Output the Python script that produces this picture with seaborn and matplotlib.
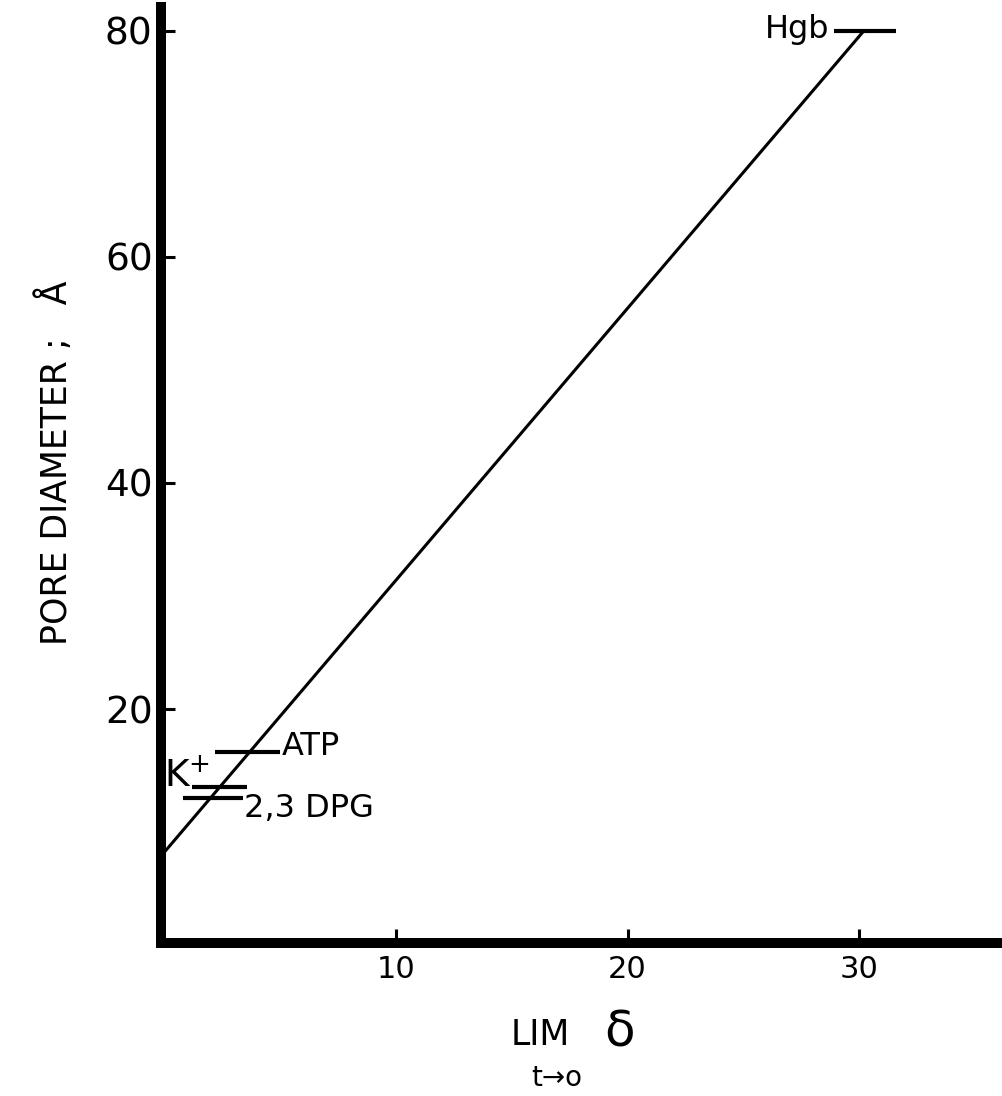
import matplotlib
matplotlib.use('Agg')
import matplotlib.pyplot as plt
import seaborn as sns
import pandas as pd

# fitted line: lim sigma (t->0) vs pore diameter
fit_sigma = [0.0, 30.2]
fit_diam = [7.3, 80.0]

# solutes: pore diameter and the range of lim sigma
solutes = ['Hgb', 'ATP', 'K$^{+}$', '2,3 DPG']
solute_diam = [80.0, 16.2, 13.1, 12.1]
sigma_lo = [28.9, 2.2, 1.2, 0.8]
sigma_hi = [31.6, 5.0, 3.6, 3.4]

x_ticks = [10, 20, 30]
y_ticks = [20, 40, 60, 80]


def main():
    sns.set_style('white')
    plt.rcParams['font.family'] = ['DejaVu Sans']
    plt.rcParams['text.color'] = 'black'
    plt.rcParams['xtick.color'] = 'black'
    plt.rcParams['ytick.color'] = 'black'

    fig = plt.figure(figsize=(10.03, 10.96), dpi=100)
    ax = fig.add_axes([0.1605, 0.1396, 0.8395, 0.854])

    fit = pd.DataFrame({'sigma': fit_sigma, 'diam': fit_diam})
    sns.lineplot(data=fit, x='sigma', y='diam', ax=ax, color='black', lw=2.2)

    df = pd.DataFrame({'name': solutes, 'diam': solute_diam,
                       'lo': sigma_lo, 'hi': sigma_hi})
    ax.hlines(df['diam'], df['lo'], df['hi'], color='black', lw=3)

    # label placement: (anchor, ha, va, dx pt, dy pt, size)
    place = {
        'Hgb': ('lo', 'right', 'center', -3, 1, 23),
        'ATP': ('hi', 'left', 'center', 1, 4, 23),
        'K$^{+}$': ('lo', 'right', 'baseline', 13, 0, 27),
        '2,3 DPG': ('hi', 'left', 'top', 1, 4, 23),
    }
    for _, row in df.iterrows():
        anchor, ha, va, dx, dy, size = place[row['name']]
        ax.annotate(row['name'], xy=(row[anchor], row['diam']),
                    xytext=(dx, dy), textcoords='offset points',
                    ha=ha, va=va, fontsize=size)

    ax.set_xlim(-0.13, 36.2)
    ax.set_ylim(-0.7, 82.1)
    ax.set_xticks(x_ticks)
    ax.set_yticks(y_ticks)
    ax.tick_params(axis='y', left=True, direction='in', length=10, width=2.2,
                   labelsize=27, pad=6)
    ax.tick_params(axis='x', bottom=True, direction='in', length=10, width=2.2,
                   labelsize=22, pad=9)
    ax.set_xlabel('')
    ax.set_ylabel('')

    for side in ('top', 'right'):
        ax.spines[side].set_visible(False)
    for side in ('left', 'bottom'):
        ax.spines[side].set_linewidth(7.2)
        ax.spines[side].set_color('black')

    fig.text(0.055, 0.578, 'PORE DIAMETER ;   \u00c5', rotation=90,
             ha='center', va='center', fontsize=25)
    fig.text(0.539, 0.0557, 'LIM', ha='center', va='center', fontsize=25)
    fig.text(0.618, 0.058, '\u03b4', ha='center', va='center', fontsize=36)
    fig.text(0.555, 0.0164, 't\u2192o', ha='center', va='center', fontsize=20)

    fig.savefig('out.png', dpi=100)


if __name__ == '__main__':
    main()
